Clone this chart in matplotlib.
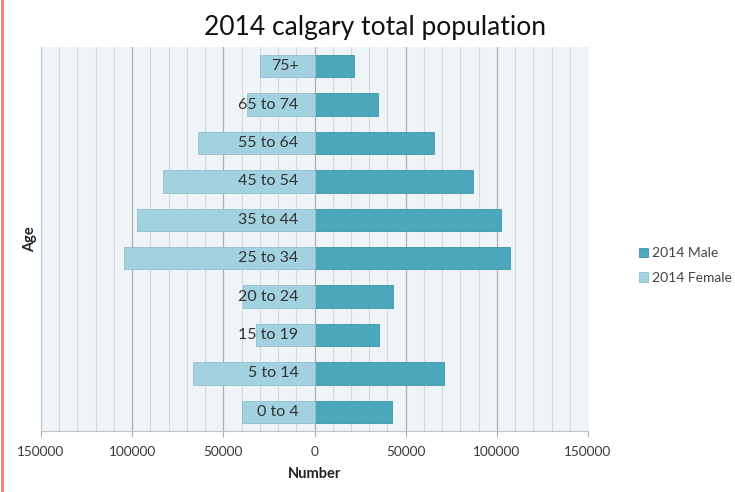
import numpy as np
import matplotlib.pyplot as plt
from matplotlib.ticker import MultipleLocator, FuncFormatter
from matplotlib.lines import Line2D

# Age groups, bottom to top
ages = ['0 to 4', '5 to 14', '15 to 19', '20 to 24', '25 to 34',
        '35 to 44', '45 to 54', '55 to 64', '65 to 74', '75+']
male = [42300, 71200, 35300, 43200, 107200, 102300, 87100, 65700, 34600, 21800]
female = [39500, 66500, 31900, 39000, 104400, 97200, 83000, 63700, 36800, 29700]

male_color = '#4ba7bb'
female_color = '#a2d1df'

plt.rcParams['font.family'] = ['Lato', 'DejaVu Sans']

fig = plt.figure(figsize=(7.35, 4.92), dpi=100)
ax = fig.add_axes([41 / 735, 61 / 492, 547 / 735, 384 / 492])
ax.set_facecolor('#eef4f8')

y = np.arange(len(ages))
ax.barh(y, male, height=0.58, color=male_color, edgecolor='#3f95a8',
        linewidth=0.6, label='2014 Male', zorder=3)
ax.barh(y, [-v for v in female], height=0.58, color=female_color,
        edgecolor='#8fc0cf', linewidth=0.6, label='2014 Female', zorder=3)

for yi, lab in zip(y, ages):
    ax.annotate(lab, (0, yi), xytext=(-11.5, 0), textcoords='offset points',
                ha='right', va='center', fontsize=11.5, color='#333333',
                zorder=5)

ax.set_xlim(-150000, 150000)
ax.set_ylim(-0.5, len(ages) - 0.5)
ax.set_yticks([])

ax.xaxis.set_major_locator(MultipleLocator(50000))
ax.xaxis.set_minor_locator(MultipleLocator(10000))
ax.xaxis.set_major_formatter(FuncFormatter(lambda v, p: f'{abs(int(v))}'))
ax.grid(which='minor', axis='x', color='#d3d8db', linewidth=0.8, zorder=1)
ax.grid(which='major', axis='x', color='#a9aeb2', linewidth=0.9, zorder=1)
ax.tick_params(axis='x', which='major', length=4, color='#b0b0b0',
               labelsize=9.8, labelcolor='#3a3a3a', pad=7)
ax.tick_params(axis='x', which='minor', length=0)

for s in ['top', 'right']:
    ax.spines[s].set_visible(False)
ax.spines['left'].set_color('#c0c4c6')
ax.spines['bottom'].set_color('#c0c4c6')

ax.set_xlabel('Number', fontsize=10.5, fontweight='bold', color='#222222',
              labelpad=6)
ax.set_ylabel('Age', fontsize=10.5, fontweight='bold', color='#222222',
              labelpad=3)

fig.suptitle('2014 calgary total population', x=375 / 735, y=0.97,
             fontsize=19, color='#111111')

handles, labels = ax.get_legend_handles_labels()
fig.legend(handles, labels, loc='center left',
           bbox_to_anchor=(626 / 735, 0.46), frameon=False, fontsize=10,
           handlelength=0.7, handleheight=0.7, labelcolor='#444444',
           handletextpad=0.3, labelspacing=0.9)

# orange rule on the left edge
fig.add_artist(Line2D([0.003, 0.003], [0.0, 1.0], color='#f2806a',
                      linewidth=2, transform=fig.transFigure))

fig.savefig('out.png', dpi=100)
